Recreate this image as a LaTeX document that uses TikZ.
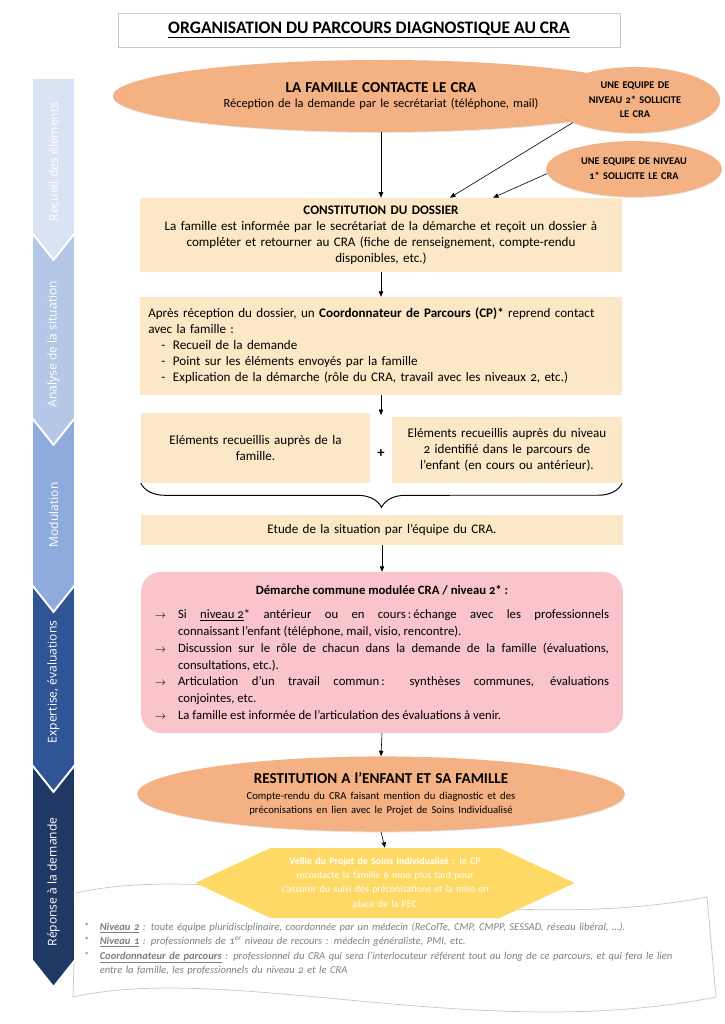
\documentclass[tikz,border=0pt]{standalone}
\usepackage{fontspec}
\setmainfont{Carlito}[Numbers=OldStyle]
\newfontfamily\sidefont{Open Sans}
\usetikzlibrary{arrows.meta,shapes.geometric,shapes.symbols,shadows,decorations.pathreplacing}

\definecolor{orangecra}{HTML}{F4B183}
\definecolor{beige}{HTML}{FCE8C6}
\definecolor{rose}{HTML}{F9C5CA}
\definecolor{jaune}{HTML}{FFD966}
\definecolor{bleuA}{HTML}{DAE3F3}
\definecolor{bleuB}{HTML}{B4C7E7}
\definecolor{bleuC}{HTML}{8FAADC}
\definecolor{bleuD}{HTML}{2F5597}
\definecolor{bleuE}{HTML}{203864}
\definecolor{gristexte}{HTML}{7F7F7F}
\definecolor{grisbord}{HTML}{C8C8C8}

\tikzset{
  boite/.style={fill=beige, shape=rectangle, minimum width=13.98cm, inner ysep=0pt, font=\fontsize{10.8}{13.2}\selectfont},
  ovale/.style={shape=ellipse, fill=orangecra, inner sep=0pt, align=center, drop shadow={opacity=0.18, shadow xshift=0.3pt, shadow yshift=-0.8pt}},
  fleche/.style={-{Triangle[length=4.5pt,width=3.6pt]}, line width=0.5pt},
  etiquette/.style={rotate=90, text=white, inner sep=0pt, font=\sidefont\fontsize{10}{12}\selectfont},
}
\newcommand{\puce}{\par\hangindent=0.67cm\hangafter=1\noindent\makebox[0.67cm][l]{\small$\rightarrow$}}

\begin{document}
\begin{tikzpicture}[x=0.029cm,y=-0.029cm]
\useasboundingbox (0,0) rectangle (724,1024);

% feuille des notes
\draw[grisbord, line width=0.6pt, fill=white] (76,893) .. controls (230,858) and (480,940) .. (707,897) -- (716,997) .. controls (480,1044) and (230,962) .. (73,997) -- cycle;

% bandeau des etapes
\foreach \haut/\creux/\bas/\couleur/\milieu/\texte [count=\i] in {
  78/0/233/bleuA/162/{Recueil des éléments},
  233/27/418/bleuB/344/{Analyse de la situation},
  418/27/585/bleuC/515/{Modulation},
  585/27/765/bleuD/682/{Expertise, évaluations},
  765/27/960/bleuE/882/{Réponse à la demande}}
{
  \filldraw[fill=\couleur, draw=white, line width=1.5pt] (32,\haut) -- (53.5,\haut+\creux) -- (75,\haut) -- (75,\bas) -- (53.5,\bas+27) -- (32,\bas) -- cycle;
  \node[etiquette] (etape\i) at (53.5,\milieu) {\texte};
}

\node[draw=grisbord, fill=white, minimum width=14.56cm, minimum height=0.99cm, font=\bfseries\fontsize{14.5}{16}\selectfont, drop shadow={opacity=0.15, shadow xshift=0.5pt, shadow yshift=-0.6pt}] (titre) at (369,30) {\underline{ORGANISATION DU PARCOURS DIAGNOSTIQUE AU CRA}};

\node[ovale, minimum width=14.21cm, minimum height=2.09cm, text width=11cm, font=\fontsize{10.2}{12}\selectfont] (famille) at (381,96) {{\bfseries\fontsize{12.5}{13.5}\selectfont LA FAMILLE CONTACTE LE CRA\par}
Réception de la demande par le secrétariat (téléphone, mail)};
\node[ovale, minimum width=4.93cm, minimum height=1.91cm, text width=3.3cm, font=\bfseries\fontsize{8.5}{12}\selectfont] (equipe2) at (635,100) {UNE EQUIPE DE\\NIVEAU 2* SOLLICITE\\LE CRA};
\node[ovale, minimum width=4.99cm, minimum height=1.62cm, text width=3.6cm, font=\bfseries\fontsize{8.5}{12.4}\selectfont] (equipe3) at (634,169) {UNE EQUIPE DE NIVEAU\\1* SOLLICITE LE CRA};

\node[boite, minimum height=2.15cm, text width=13.6cm, align=center] (dossier) at (381,235) {\textbf{CONSTITUTION DU DOSSIER}\\La famille est informée par le secrétariat de la démarche et reçoit un dossier à\\compléter et retourner au CRA (fiche de renseignement, compte-rendu\\disponibles, etc.)};
\draw[fleche] (famille.south) -- (dossier.north);
\draw[fleche] (equipe2.200) -- ([xshift=2cm]dossier.north);
\draw[fleche] (equipe3.183) -- ([xshift=3.25cm]dossier.north);

\node[boite, minimum height=2.84cm, text width=13.5cm, align=left] (apres) at (381,346) {Après réception du dossier, un \textbf{Coordonnateur de Parcours (CP)*} reprend contact\\avec la famille :\\
\hspace*{0.38cm}-\hspace*{0.22cm}Recueil de la demande\\
\hspace*{0.38cm}-\hspace*{0.22cm}Point sur les éléments envoyés par la famille\\
\hspace*{0.38cm}-\hspace*{0.22cm}Explication de la démarche (rôle du CRA, travail avec les niveaux 2, etc.)};
\draw[fleche] (dossier.south) -- (apres.north);

\coordinate (basplus) at (381,415);
\draw[fleche] (apres.south) -- (basplus);
\node[boite, minimum width=6.64cm, minimum height=2.03cm, text width=6.3cm, align=center] (famg) at (255.5,448) {Eléments recueillis auprès de la\\famille.};
\node[boite, minimum width=6.67cm, minimum height=1.91cm, text width=6.4cm, align=center] (nivd) at (507,450) {Eléments recueillis auprès du niveau\\2 identifié dans le parcours de\\l’enfant (en cours ou antérieur).};
\node[font=\bfseries\fontsize{12}{14}\selectfont] (plus) at (381,453) {+};
\draw[line width=0.8pt, decorate, decoration={brace, mirror, amplitude=0.7cm}] (famg.south west) -- (nivd.south east);

\node[boite, minimum height=0.87cm, text width=13.4cm, align=center] (etude) at (382,530) {Etude de la situation par l’équipe du CRA.};

\node[fill=rose, rounded corners=0.58cm, minimum width=13.98cm, minimum height=4.67cm, text width=13.17cm, align=justify, font=\fontsize{10.5}{13.8}\selectfont] (commune) at (382,652.5) {{\centering\bfseries Démarche commune modulée CRA / niveau 2* :\par}
\vspace{6pt}
\puce Si \underline{niveau 2}* antérieur ou en cours\,:\,échange avec les professionnels\linebreak connaissant l’enfant (téléphone, mail, visio, rencontre).
\puce Discussion sur le rôle de chacun dans la demande de la famille (évaluations,\linebreak consultations, etc.).
\puce Articulation d’un travail commun\,: synthèses communes, évaluations\linebreak conjointes, etc.
\puce La famille est informée de l’articulation des évaluations à venir.\par};
\draw[fleche] (etude.south) -- (commune.north);

\node[ovale, minimum width=14.07cm, minimum height=2.18cm, text width=10cm] (restitution) at (381,794) {{\bfseries\fontsize{12.5}{14}\selectfont RESTITUTION A l’ENFANT ET SA FAMILLE\par}
\vspace{2pt}
{\fontsize{8.8}{11.5}\selectfont Compte-rendu du CRA faisant mention du diagnostic et des\\préconisations en lien avec le Projet de Soins Individualisé\par}};
\draw[fleche] (commune.south) -- (restitution.north);

\node[shape=signal, signal to=west and east, signal pointer angle=50, fill=jaune, minimum width=11cm, minimum height=2.03cm, inner sep=0pt, text width=6.6cm, align=center, text=white, font=\fontsize{8.2}{11.8}\selectfont] (veille) at (385,883) {\textbf{Veille du Projet de Soins Individualisé} : le CP\\recontacte la famille 6 mois plus tard pour\\s’assurer du suivi des préconisations et la mise en\\place de la PEC};
\draw[fleche] (restitution.south) -- (veille.north);

\node[anchor=west, text width=18.5cm, align=left, inner sep=0pt, text=gristexte, font=\itshape\fontsize{8.7}{12}\selectfont] (notes) at (84,949) {%
\makebox[0.45cm][l]{\upshape*}\textbf{\underline{Niveau 2}} : toute équipe pluridisciplinaire, coordonnée par un médecin (ReColTe, CMP, CMPP, SESSAD, réseau libéral, …).\\
\makebox[0.45cm][l]{\upshape*}\textbf{\underline{Niveau 1}} : professionnels de 1\textsuperscript{er} niveau de recours : médecin généraliste, PMI, etc.\\
\makebox[0.45cm][l]{\upshape*}\textbf{\underline{Coordonnateur de parcours}} : professionnel du CRA qui sera l’interlocuteur référent tout au long de ce parcours, et qui fera le lien\\
\hspace*{0.45cm}entre la famille, les professionnels du niveau 2 et le CRA};
\end{tikzpicture}
\end{document}
